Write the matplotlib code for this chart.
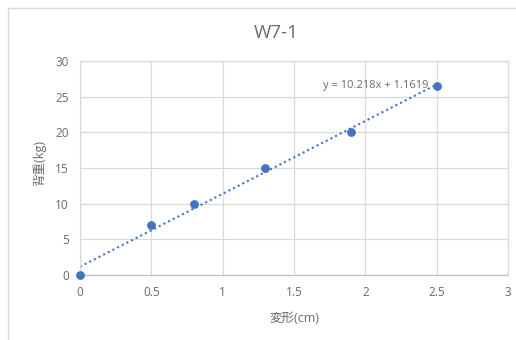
import matplotlib
matplotlib.use("Agg")
import matplotlib.pyplot as plt
import numpy as np
from matplotlib.patches import Rectangle

plt.rcParams['font.family'] = ['Open Sans', 'Noto Sans CJK JP', 'DejaVu Sans']

deformation = [0, 0.5, 0.8, 1.3, 1.9, 2.5]
weight = [0, 7, 10, 15, 20, 26.5]
x_ticks = [0, 0.5, 1, 1.5, 2, 2.5, 3]
x_tick_labels = ['0', '0.5', '1', '1.5', '2', '2.5', '3']
y_ticks = [0, 5, 10, 15, 20, 25, 30]

W, H = 516, 340
fig = plt.figure(figsize=(W / 100, H / 100), dpi=100)
fig.patch.set_facecolor('white')

# chart frame
fig.patches.append(Rectangle((8 / W, -0.1), 1.2, 1.1 - 8 / H, transform=fig.transFigure,
                             fill=False, edgecolor='#d9d9d9', linewidth=1))

ax = fig.add_axes([80 / W, 1 - 275 / H, 428 / W, 214 / H])
ax.set_xlim(0, 3)
ax.set_ylim(0, 30)
ax.set_xticks(x_ticks)
ax.set_xticklabels(x_tick_labels)
ax.set_yticks(y_ticks)
ax.grid(True, color='#d9d9d9', linewidth=0.9)
ax.set_axisbelow(True)
for side in ['top', 'right', 'left']:
    ax.spines[side].set_color('#d9d9d9')
    ax.spines[side].set_linewidth(0.9)
ax.spines['bottom'].set_color('#bfbfbf')
ax.spines['bottom'].set_linewidth(0.9)
ax.tick_params(length=0, labelsize=8.5, labelcolor='#6a6a6a', pad=8)

# linear trendline
x = np.array(deformation)
y = np.array(weight)
slope, intercept = np.polyfit(x, y, 1)
xs = np.array([0, 2.5])
ax.plot(xs, slope * xs + intercept, linestyle=(0, (1, 1.5)), color='#4472c4', linewidth=1.5)

ax.scatter(x, y, s=28, color='#4472c4', zorder=3, clip_on=False)

ax.text(2.44, 26.6, f"y = {slope:.3f}x + {intercept:.4f}", ha='right', va='center',
        fontsize=8, color='#6a6a6a')

fig.text(276 / W, 1 - 33 / H, 'W7-1', ha='center', va='center', fontsize=13.5, color='#6a6a6a')
fig.text(294 / W, 1 - 318 / H, '変形(cm)', ha='center', va='center', fontsize=9, color='#6a6a6a')
fig.text(40 / W, 1 - 163 / H, '背重(kg)', ha='center', va='center', fontsize=9,
         color='#6a6a6a', rotation=90)

fig.savefig('out.png', dpi=100)
